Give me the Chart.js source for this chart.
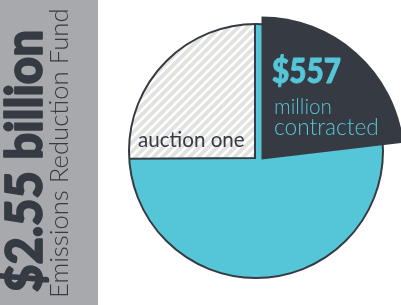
<!DOCTYPE html>
<html>
<head>
<meta charset="utf-8">
<script src="https://cdn.jsdelivr.net/npm/chart.js@4.4.1/dist/chart.umd.min.js"></script>
<style>
  html, body { margin: 0; padding: 0; background: #fff; }
</style>
</head>
<body>
<canvas id="fundChart" width="401" height="305"></canvas>
<script>
// values in $ million (total fund $2.55 billion)
const sliceLabels = ['not yet contracted', 'auction one', 'contracted'];
const sliceValues = [1320, 640, 590];
const headline = ['$2.55 billion', 'Emissions Reduction Fund'];
const contractedText = ['$557', 'million', 'contracted'];
const auctionText = 'auction one';

const CYAN = '#55c6d7';
const DARK = '#363a42';
const BAR_GREY = '#a7a9ac';
const HATCH_GREY = '#e2e3e1';
const HEAVY = '"Lato Black", Lato, sans-serif';
const LIGHT = '"Lato Light", Lato, sans-serif';
const REGULAR = 'Lato, sans-serif';

function hatchPattern() {
  const p = 9;
  const c = document.createElement('canvas');
  c.width = p; c.height = p;
  const g = c.getContext('2d');
  g.fillStyle = HATCH_GREY;
  g.fillRect(0, 0, p, p);
  g.strokeStyle = '#ffffff';
  g.lineWidth = 2.6;
  g.beginPath();
  for (const k of [0, p, 2 * p]) {
    g.moveTo(k + 2, -2);
    g.lineTo(-2, k + 2);
  }
  g.stroke();
  return g.createPattern(c, 'repeat');
}

// pick a font size so the text spans the given width
function fitFont(ctx, text, weight, family, width) {
  ctx.font = `${weight} 100px ${family}`;
  const size = 100 * width / ctx.measureText(text).width;
  return `${weight} ${size.toFixed(1)}px ${family}`;
}

// text at (x, y) reading upwards, optionally stretched across the glyph height
function drawText(ctx, text, x, y, font, opts = {}) {
  ctx.save();
  ctx.translate(x, y);
  if (opts.up) ctx.rotate(-Math.PI / 2);
  ctx.scale(1, opts.stretch || 1);
  ctx.font = font;
  ctx.fillText(text, 0, 0);
  if (opts.heavy) {
    ctx.lineWidth = opts.heavy;
    ctx.lineJoin = 'round';
    ctx.strokeStyle = ctx.fillStyle;
    ctx.strokeText(text, 0, 0);
  }
  ctx.restore();
}

const total = sliceValues.reduce((a, b) => a + b, 0);
// the dark slice starts at 12 o'clock, it is last in the list so it draws on top
const rotation = sliceValues[2] / total * 360;

const pieDecor = {
  id: 'pieDecor',
  beforeDraw(chart) {
    const ctx = chart.ctx;
    ctx.save();
    ctx.fillStyle = BAR_GREY;
    ctx.fillRect(0, 0, 98, chart.height);
    ctx.fillStyle = DARK;
    ctx.textBaseline = 'alphabetic';
    ctx.textAlign = 'left';
    drawText(ctx, headline[0], 42, 292, fitFont(ctx, headline[0], 900, HEAVY, 262),
      { up: true, stretch: 1.08, heavy: 1.6 });
    drawText(ctx, headline[1], 68, 298, fitFont(ctx, headline[1], 300, LIGHT, 290), { up: true });
    ctx.restore();
  },
  afterDatasetsUpdate(chart) {
    const arcs = chart.getDatasetMeta(0).data;
    const base = arcs[0];
    const hatch = arcs[1];
    const dark = arcs[2];
    hatch.x = base.x - 1;
    hatch.y = base.y + 7;
    hatch.outerRadius = base.outerRadius + 12;
    dark.x = base.x + 5.5;
    dark.y = base.y + 8.5;
    dark.outerRadius = base.outerRadius + 16;
    // keep the hatched quarter inside the round outline
    hatch.draw = function (ctx, area) {
      ctx.save();
      ctx.beginPath();
      ctx.arc(base.x, base.y, base.outerRadius, 0, Math.PI * 2);
      ctx.clip();
      Chart.ArcElement.prototype.draw.call(this, ctx, area);
      ctx.restore();
    };
  },
  beforeDatasetsDraw(chart) {
    const base = chart.getDatasetMeta(0).data[0];
    const ctx = chart.ctx;
    ctx.save();
    ctx.fillStyle = CYAN;
    ctx.beginPath();
    ctx.arc(base.x, base.y, base.outerRadius, 0, Math.PI * 2);
    ctx.fill();
    ctx.restore();
  },
  afterDatasetsDraw(chart) {
    const base = chart.getDatasetMeta(0).data[0];
    const ctx = chart.ctx;
    ctx.save();
    ctx.strokeStyle = DARK;
    ctx.lineWidth = 2;
    ctx.beginPath();
    ctx.arc(base.x, base.y, base.outerRadius, 0, Math.PI * 2);
    ctx.stroke();

    ctx.textAlign = 'left';
    ctx.textBaseline = 'alphabetic';
    ctx.fillStyle = CYAN;
    drawText(ctx, contractedText[0], 272, 83, fitFont(ctx, contractedText[0], 900, HEAVY, 69),
      { stretch: 1.12, heavy: 0.8 });
    drawText(ctx, contractedText[1], 274, 114, fitFont(ctx, contractedText[1], 300, LIGHT, 58));
    drawText(ctx, contractedText[2], 274, 135, fitFont(ctx, contractedText[2], 300, LIGHT, 105));

    ctx.fillStyle = DARK;
    drawText(ctx, auctionText, 138, 147, fitFont(ctx, auctionText, 400, REGULAR, 107));
    ctx.restore();
  }
};

new Chart(document.getElementById('fundChart'), {
  type: 'pie',
  data: {
    labels: sliceLabels,
    datasets: [{
      data: sliceValues,
      backgroundColor: [CYAN, hatchPattern(), DARK],
      borderColor: DARK,
      borderWidth: [0, 2, 0],
      borderJoinStyle: 'miter',
      clip: false
    }]
  },
  options: {
    responsive: false,
    animation: false,
    events: [],
    rotation: rotation,
    layout: { padding: { left: 128, right: 17, top: 23, bottom: 26 } },
    plugins: {
      legend: { display: false },
      tooltip: { enabled: false }
    }
  },
  plugins: [pieDecor]
});
</script>
</body>
</html>
